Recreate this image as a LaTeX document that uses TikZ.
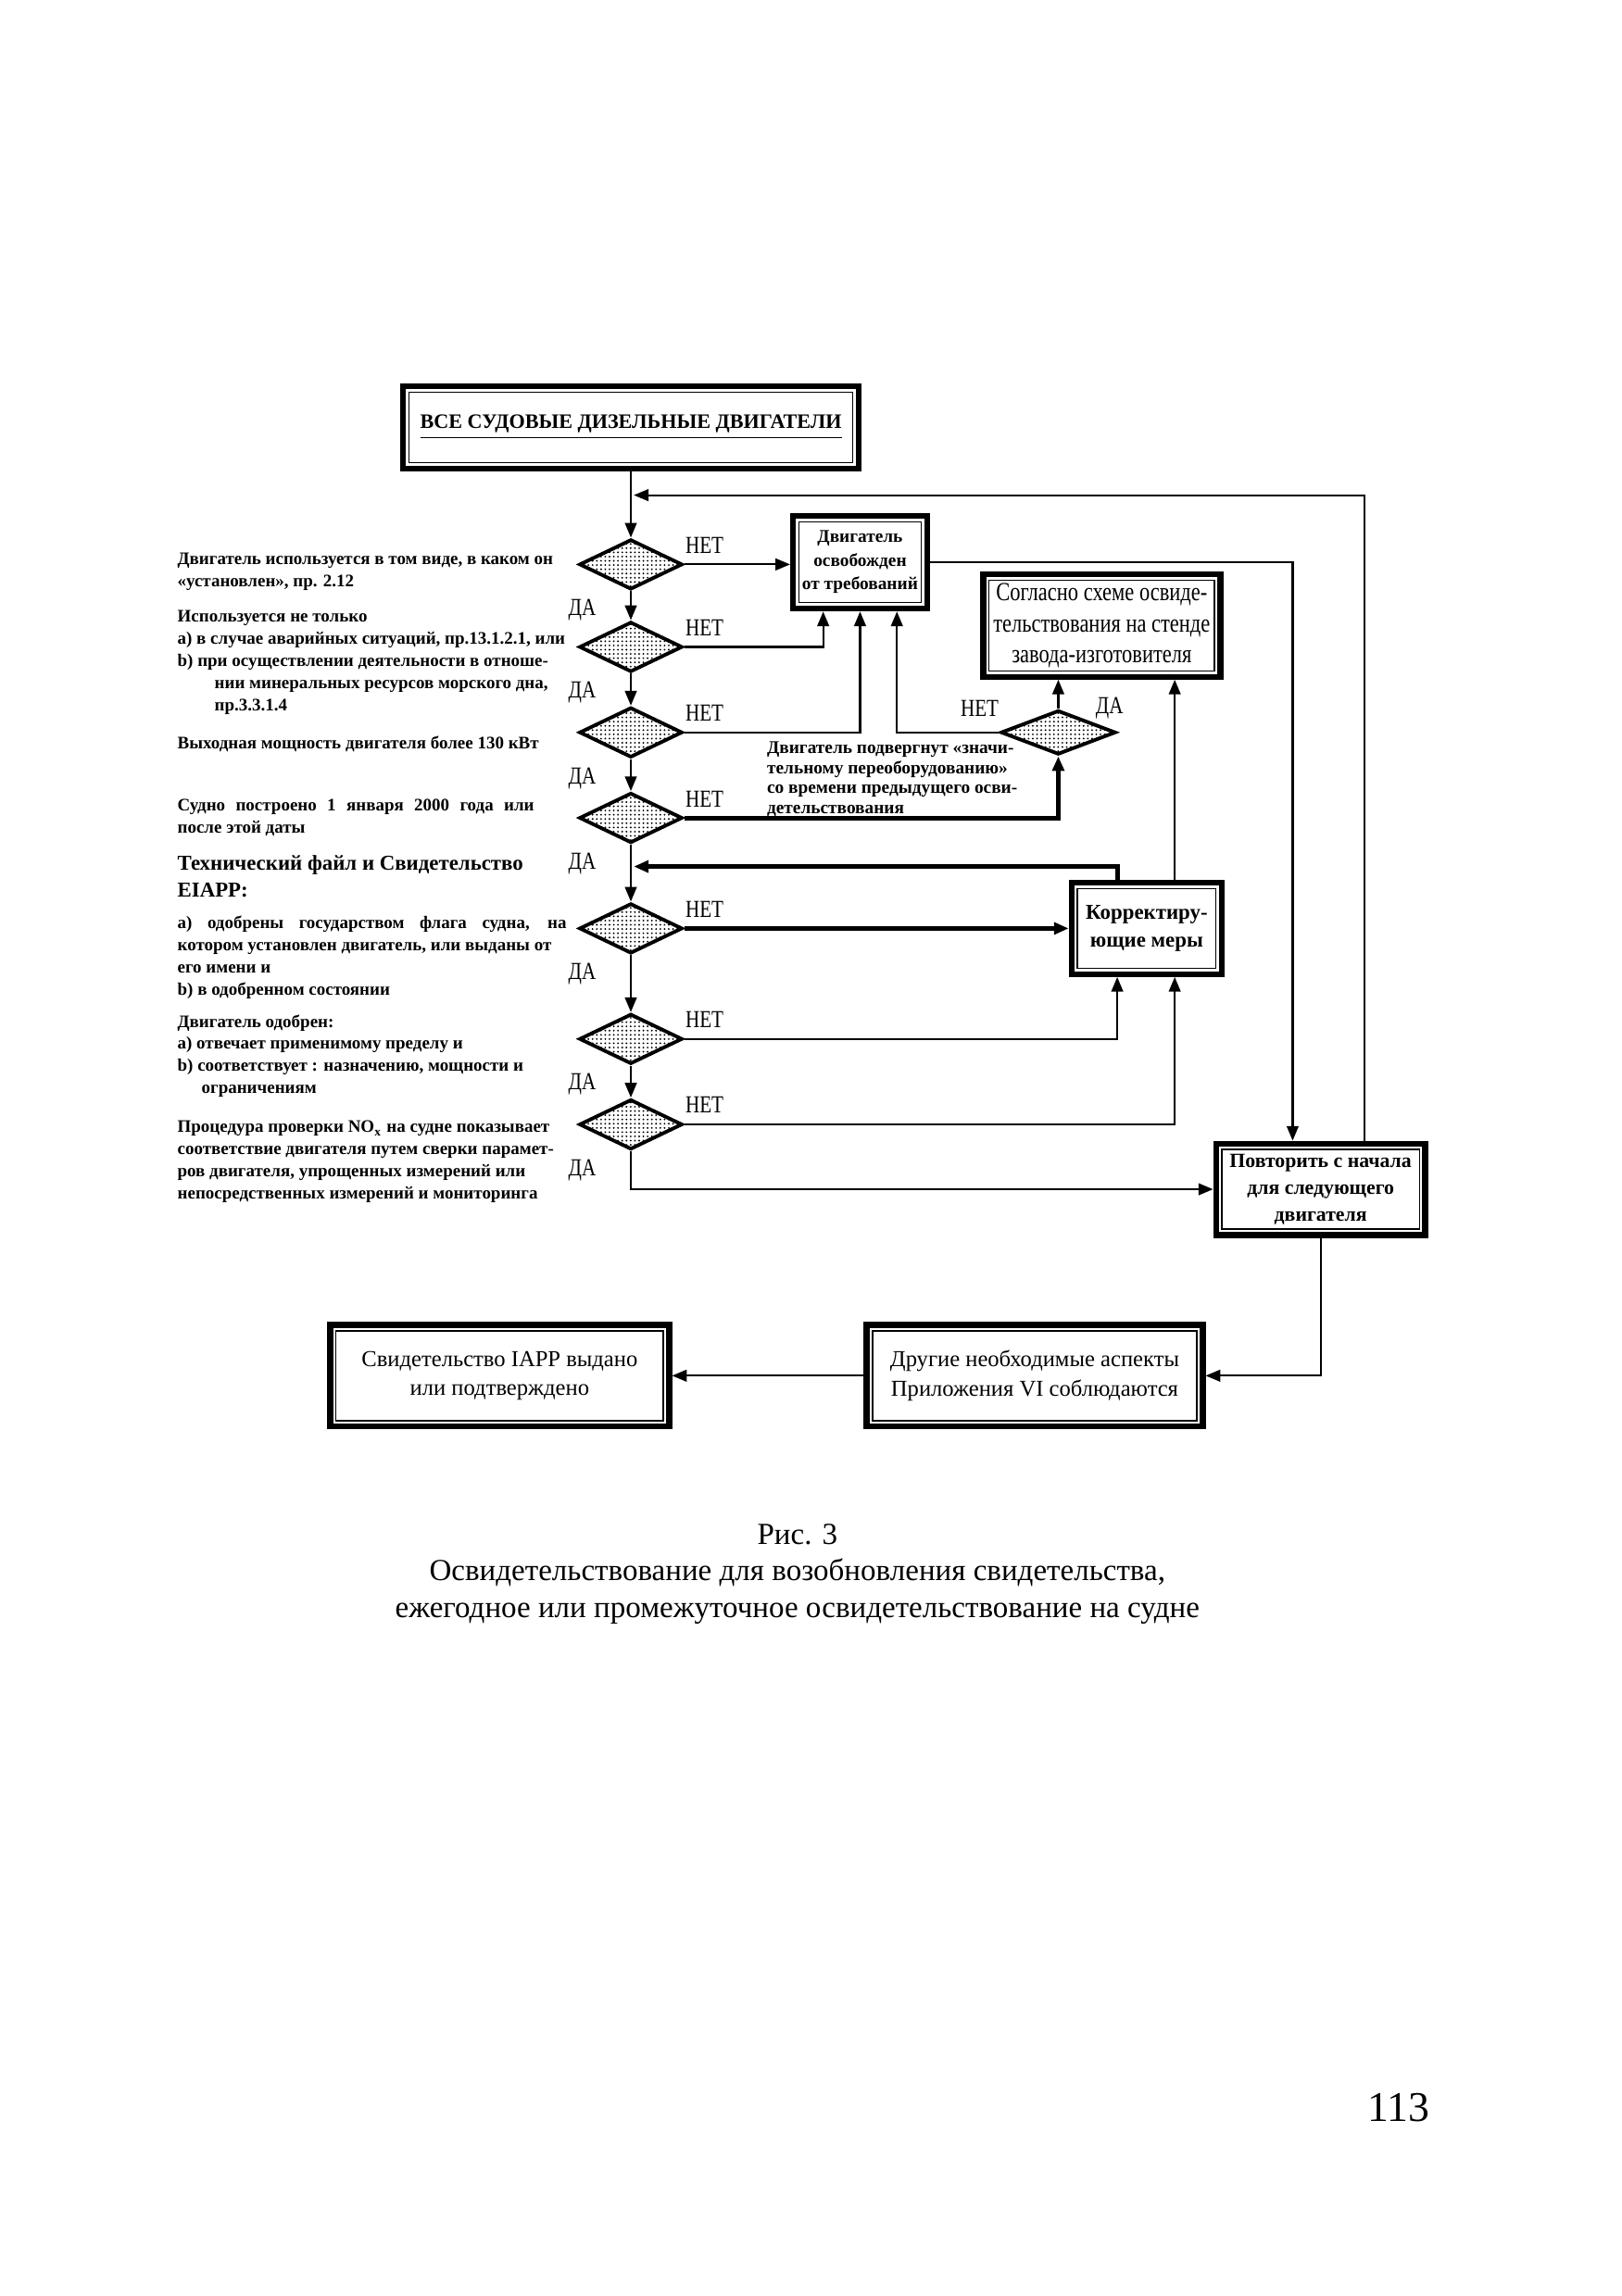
\documentclass[tikz,border=0pt]{standalone}
\usepackage{fontspec}
\setmainfont{Liberation Serif}
\newfontfamily\narrowfont[FakeStretch=0.8]{Liberation Serif}
\usetikzlibrary{shapes.geometric,arrows.meta,patterns.meta,calc}

\def\un{0.1591mm}
\newcommand\notefont{\fontsize{5.4}{6.8}\selectfont\bfseries}
\newcommand\boxfont{\fontsize{6.5}{8.5}\selectfont\bfseries}

\tikzset{
  frame/.style={draw, line width=0.4pt, align=center, inner sep=1pt, outer sep=2.7pt, font=\boxfont},
  ask/.style={diamond, draw, line width=1.1pt, inner sep=0pt, minimum width=70*\un, minimum height=34*\un,
    preaction={fill=white}, pattern={Dots[distance=1.3pt, radius=0.3pt]}},
  note/.style={anchor=north west, inner sep=0pt, align=left, font=\notefont},
  yesno/.style={inner sep=0pt, font=\narrowfont\fontsize{7.5}{8}\selectfont},
  link/.style={line width=0.6pt, -{Triangle[length=4.5pt,width=3.6pt]}},
  boldlink/.style={link, line width=1.4pt},
}

\begin{document}
\begin{tikzpicture}[x=\un, y=-\un]
  \useasboundingbox (0,0) rectangle (1100,1558);

  % boxes
  \node[frame, minimum width=301*\un, minimum height=48*\un, font=\fontsize{6.3}{8}\selectfont\bfseries] (all) at (428,290)
    {\underline{ВСЕ СУДОВЫЕ ДИЗЕЛЬНЫЕ ДВИГАТЕЛИ}};
  \node[frame, minimum width=81*\un, minimum height=55*\un, font=\fontsize{5.5}{7.2}\selectfont\bfseries] (exempt) at (583.5,381.5)
    {Двигатель\\освобожден\\от требований};
  \node[frame, minimum width=153*\un, minimum height=53*\un, font=\narrowfont\fontsize{8}{9.5}\selectfont] (scheme) at (747.5,424.5)
    {Согласно схеме освиде-\\тельствования на стенде\\завода-изготовителя};
  \node[frame, minimum width=94*\un, minimum height=54*\un] (corr) at (778,630) {Корректиру-\\ющие меры};
  \node[frame, minimum width=134*\un, minimum height=54*\un, font=\fontsize{6.2}{8.2}\selectfont\bfseries] (rep) at (896,807)
    {Повторить с начала\\для следующего\\двигателя};
  \node[frame, minimum width=220*\un, minimum height=61*\un, font=\fontsize{7}{9}\selectfont] (other) at (702,933.5)
    {Другие необходимые аспекты\\Приложения VI соблюдаются};
  \node[frame, minimum width=222*\un, minimum height=61*\un, font=\fontsize{7}{9}\selectfont] (cert) at (339,933.5)
    {Свидетельство IAPP выдано\\или подтверждено};
  % thick outer frames
  \foreach \b in {all,exempt,scheme,corr,rep,other,cert}
    \draw[line width=1.8pt] ([shift={(0.9pt,-0.9pt)}]\b.north west) rectangle ([shift={(-0.9pt,0.9pt)}]\b.south east);

  % questions
  \foreach \i/\y in {1/383,2/439,3/497,4/555,5/630,6/705,7/763}
    \node[ask] (d\i) at (428,\y) {};
  \node[ask, minimum width=78*\un, minimum height=30*\un] (d8) at (718,497) {};

  \coordinate (j0) at (430,336);
  \coordinate (j1) at (430,588);

  % main line
  \draw[link] (all) -- (d1);
  \foreach \i [evaluate=\i as \j using int(\i+1)] in {1,...,6}
    \draw[link] (d\i) -- (d\j);
  \foreach \i in {1,...,7} {
    \node[yesno] at ($(d\i)+(50,-13)$) {НЕТ};
    \node[yesno] at ($(d\i)+(-33,31)$) {ДА};
  }
  \node[yesno, anchor=east] at ([xshift=-40*\un]d8.north) {НЕТ};
  \node[yesno, anchor=west] at ([xshift=25*\un]d8.north) {ДА};

  % branches
  \draw[link] (d1.east) -- (d1.east -| exempt.west);
  \draw[link] (d2.east) -| ([xshift=-25*\un]exempt.south);
  \draw[link] (d3.east) -| (exempt.south);
  \draw[link] (d8.west) -| ([xshift=25*\un]exempt.south);
  \draw[link] (d8.north) -- (d8.north |- scheme.south);
  \draw[boldlink] (d4.east) -| (d8.south);
  \draw[boldlink] (d5.east) -- (d5.east -| corr.west);
  \draw[link] (d6.east) -| ([xshift=-20*\un]corr.south);
  \draw[link] (d7.east) -| ([xshift=19*\un]corr.south);
  \draw[boldlink] ([xshift=-20*\un]corr.north) |- (j1);
  \draw[link] ([xshift=19*\un]corr.north) -- ([xshift=19*\un]corr.north |- scheme.south);
  \draw[link] (exempt.east) -| ([xshift=-19*\un]rep.north);
  \draw[link] ([xshift=30*\un]rep.north) |- (j0);
  \draw[link] (d7.south) |- (rep.west);
  \draw[link] (rep.south) |- (other.east);
  \draw[link] (other) -- (cert);

  % conditions
  \node[note] (n1) at (120,375) {Двигатель используется в том виде, в каком он\\«установлен», пр. 2.12};
  \node[note] (n2) at (120,414) {Используется не только\\а) в случае аварийных ситуаций, пр.13.1.2.1, или\\b) при осуществлении деятельности в отноше-\\\hspace*{4mm}нии минеральных ресурсов морского дна,\\\hspace*{4mm}пр.3.3.1.4};
  \node[note] (n3) at (120,499) {Выходная мощность двигателя более 130 кВт};
  \node[note] (n4) at (120,542) {\makebox[38.5mm][s]{Судно построено 1 января 2000 года или}\\после этой даты};
  \node[note, font=\fontsize{6.5}{8.4}\selectfont\bfseries] (n5) at (120,580) {Технический файл и Свидетельство\\EIAPP:};
  \node[note] (n6) at (120,621) {\makebox[42mm][s]{а) одобрены государством флага судна, на}\\котором установлен двигатель, или выданы от\\его имени и\\b) в одобренном состоянии};
  \node[note] (n7) at (120,688) {Двигатель одобрен:\\а) отвечает применимому пределу и\\b) соответствует : назначению, мощности и\\\hspace*{2.6mm}ограничениям};
  \node[note] (n8) at (120,760) {Процедура проверки NO\textsubscript{x} на судне показывает\\соответствие двигателя путем сверки парамет-\\ров двигателя, упрощенных измерений или\\непосредственных измерений и мониторинга};
  \node[note, font=\fontsize{5.5}{6.1}\selectfont\bfseries] (n9) at (520,503) {Двигатель подвергнут «значи-\\тельному переоборудованию»\\со времени предыдущего осви-\\детельствования};

  % caption
  \node[font=\fontsize{9.4}{11.3}\selectfont, align=center] (cap) at (541,1068)
    {Рис. 3\\Освидетельствование для возобновления свидетельства,\\ежегодное или промежуточное освидетельствование на судне};
  \node[font=\fontsize{13}{15}\selectfont] (page) at (949,1430) {113};
\end{tikzpicture}
\end{document}
